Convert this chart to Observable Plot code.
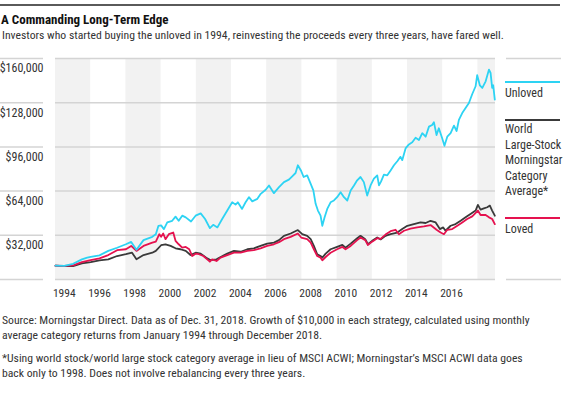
<!DOCTYPE html>
<html>
<head>
<meta charset="utf-8">
<script src="https://cdn.jsdelivr.net/npm/d3@7"></script>
<script src="https://cdn.jsdelivr.net/npm/@observablehq/plot@0.6"></script>
<style>
  html, body { margin: 0; padding: 0; background: #fff; }
  body { width: 565px; height: 399px; position: relative; overflow: hidden;
         font-family: "Roboto Condensed", "Liberation Sans Narrow", sans-serif; color: #222; }
  #rule { position: absolute; left: 0; top: 4px; width: 560px; height: 2px; background: #5a5a5a; }
  #title { position: absolute; left: 1px; top: 12px; font-size: 13px; line-height: 16px; font-weight: bold; color: #111; white-space: nowrap; }
  #subtitle { position: absolute; left: 2px; top: 28px; font-size: 11.7px; line-height: 14px; color: #333; white-space: nowrap; }
  #chart { position: absolute; left: 0; top: 48px; }
  #legend { position: absolute; left: 505px; top: 0; width: 55px; font-size: 12px; color: #333; }
  .bar { position: absolute; left: 0; width: 55px; height: 2px; }
  .lab { position: absolute; left: 0; white-space: nowrap; line-height: 15.6px; }
  .note { position: absolute; left: 2px; font-size: 11.7px; line-height: 15px; color: #333; white-space: nowrap; }
</style>
</head>
<body>
<div id="rule"></div>
<div id="title">A Commanding Long-Term Edge</div>
<div id="subtitle">Investors who started buying the unloved in 1994, reinvesting the proceeds every three years, have fared well.</div>
<div id="chart"></div>
<div id="legend"></div>
<div class="note" style="top:313px">Source: Morningstar Direct. Data as of Dec. 31, 2018. Growth of $10,000 in each strategy, calculated using monthly<br>average category returns from January 1994 through December 2018.</div>
<div class="note" style="top:351px">*Using world stock/world large stock category average in lieu of MSCI ACWI; Morningstar’s MSCI ACWI data goes<br>back only to 1998. Does not involve rebalancing every three years.</div>
<script>
// ---- Data (years as decimal years, values in thousands of dollars) ----
const unlovedT = [1994.0,1994.5,1995.0,1995.5,1995.8,1996.0,1996.5,1997.0,1997.5,1998.0,1998.3,1998.6,1999.0,1999.5,1999.7,1999.85,2000.0,2000.16,2000.35,2000.63,2000.82,2001.0,2001.2,2001.4,2001.7,2001.96,2002.25,2002.5,2002.77,2002.96,2003.2,2003.47,2003.76,2004.04,2004.23,2004.36,2004.6,2004.8,2004.99,2005.18,2005.47,2005.66,2005.94,2006.13,2006.41,2006.7,2006.98,2007.26,2007.45,2007.64,2007.77,2007.96,2008.1,2008.3,2008.5,2008.65,2008.78,2008.91,2009.06,2009.16,2009.29,2009.44,2009.63,2009.82,2010.0,2010.2,2010.39,2010.58,2010.77,2010.96,2011.14,2011.33,2011.52,2011.71,2011.9,2012.09,2012.28,2012.38,2012.5,2012.66,2012.85,2013.04,2013.23,2013.42,2013.6,2013.7,2013.89,2014.08,2014.27,2014.46,2014.65,2014.84,2015.03,2015.22,2015.4,2015.5,2015.65,2015.78,2015.97,2016.1,2016.26,2016.45,2016.64,2016.79,2016.92,2017.11,2017.3,2017.49,2017.68,2017.87,2017.96,2018.11,2018.25,2018.44,2018.63,2018.72,2018.81,2018.87,2018.96];
const unlovedV = [10.0,9.9,11.4,14.6,15.8,16.3,17.5,20.7,23.0,25.5,27.2,21.5,28.5,30.9,32.8,38.9,39.2,36.5,41.3,42.5,45.5,42.5,46.2,45.0,42.0,46.2,47.9,43.8,37.2,39.6,37.7,43.8,49.9,55.9,54.2,55.9,51.1,55.9,59.6,56.6,58.4,62.0,65.0,68.1,62.5,66.9,70.5,72.3,74.7,77.1,82.7,78.5,74.2,75.4,69.3,64.5,54.8,49.9,46.2,38.9,45.0,51.1,55.9,57.2,59.6,63.2,59.6,57.2,64.5,68.1,71.8,74.2,70.5,60.8,68.1,73.0,75.4,68.1,71.0,75.9,75.4,79.0,82.7,85.6,88.8,86.4,94.9,97.8,99.3,102.6,101.0,105.9,103.4,110.7,111.9,113.9,104.6,109.5,102.2,96.8,103.4,105.9,111.4,107.5,115.6,120.5,124.1,127.8,134.3,139.9,147.9,140.6,138.7,143.5,152.0,149.6,138.7,140.6,130.2];

const worldT = [1994.0,1994.5,1995.0,1995.5,1996.0,1996.5,1997.0,1997.5,1998.0,1998.35,1998.6,1999.0,1999.5,1999.7,2000.0,2000.25,2000.54,2000.82,2001.1,2001.4,2001.67,2001.96,2002.25,2002.62,2002.8,2003.15,2003.38,2003.76,2004.14,2004.52,2004.9,2005.27,2005.65,2006.03,2006.41,2006.7,2006.98,2007.36,2007.77,2008.02,2008.3,2008.5,2008.68,2008.87,2009.06,2009.16,2009.35,2009.63,2010.0,2010.3,2010.48,2010.77,2011.14,2011.33,2011.6,2011.75,2011.99,2012.28,2012.47,2012.75,2013.04,2013.42,2013.7,2013.99,2014.36,2014.74,2015.03,2015.31,2015.6,2015.84,2016.03,2016.16,2016.45,2016.73,2017.02,2017.3,2017.58,2017.87,2018.0,2018.15,2018.34,2018.53,2018.68,2018.81,2018.96];
const worldV = [10.0,9.7,9.7,11.7,12.6,13.9,14.6,17.0,18.3,19.4,14.6,17.7,19.4,20.7,24.8,25.5,24.3,22.6,21.9,20.7,17.7,19.4,18.7,15.3,14.1,14.6,16.3,18.7,20.7,20.1,21.9,22.6,24.3,26.0,26.7,28.5,31.6,33.3,35.8,32.8,31.6,29.2,24.3,18.3,17.0,15.8,18.7,21.9,23.6,25.0,23.1,26.0,29.9,31.6,29.2,25.5,28.0,30.4,29.0,31.6,32.8,34.0,36.5,38.9,40.1,41.3,40.9,42.5,41.3,36.5,37.7,35.3,38.9,40.1,42.5,45.0,47.5,49.9,54.0,50.6,51.5,52.3,53.5,49.9,46.2];

const lovedT = [1994.0,1994.5,1995.0,1995.5,1996.0,1996.5,1997.0,1997.5,1998.0,1998.3,1998.6,1999.0,1999.5,1999.7,1999.9,2000.0,2000.12,2000.25,2000.44,2000.69,2000.82,2001.0,2001.2,2001.4,2001.6,2001.77,2001.96,2002.15,2002.4,2002.62,2002.77,2002.9,2003.15,2003.38,2003.76,2004.14,2004.52,2004.9,2005.27,2005.65,2006.03,2006.41,2006.7,2006.98,2007.36,2007.77,2007.96,2008.3,2008.5,2008.68,2008.87,2009.06,2009.16,2009.35,2009.63,2010.0,2010.3,2010.48,2010.77,2011.14,2011.33,2011.6,2011.75,2011.99,2012.28,2012.47,2012.75,2013.04,2013.32,2013.51,2013.8,2014.17,2014.55,2014.93,2015.31,2015.65,2015.88,2016.07,2016.26,2016.54,2016.83,2017.11,2017.39,2017.68,2018.0,2018.15,2018.44,2018.63,2018.81,2018.96];
const lovedV = [10.0,9.8,10.2,12.6,14.1,15.3,17.7,21.2,21.9,24.3,20.7,24.3,26.7,27.4,32.8,30.9,33.3,29.2,32.8,34.0,28.0,25.5,23.1,23.6,21.9,17.0,18.7,18.3,17.0,14.6,12.9,14.6,13.4,15.8,17.7,19.4,19.4,20.7,21.2,22.6,24.3,25.5,27.0,29.2,30.9,33.3,30.4,29.2,26.7,21.9,17.0,15.8,13.9,16.3,19.4,21.9,23.6,21.9,24.3,28.5,30.4,28.5,25.0,27.4,29.9,29.4,32.5,35.0,36.0,32.8,35.3,36.9,37.7,38.4,39.4,36.0,34.0,32.8,36.0,36.5,38.9,41.3,43.8,45.7,49.9,46.7,46.7,45.0,43.8,40.1];

const yTicks = [0, 32000, 64000, 96000, 128000, 160000];
const yLabelTicks = [32000, 64000, 96000, 128000, 160000];
const yearLabels = ["1994","1996","1998","2000","2002","2004","2006","2008","2010","2012","2014","2016"];
const bandStarts = [1994, 1998, 2002, 2006, 2010, 2014, 2018];
const xDomain = [1994, 2019];

const seriesNames = ["Unloved", "World Large-Stock Morningstar Category Average*", "Loved"];
const seriesColors = ["#2dd3f3", "#3a3a3a", "#e5124f"];

// ---- Build tables ----
const toRows = (T, V) => T.map((t, i) => ({t, v: V[i] * 1000}));
const unloved = toRows(unlovedT, unlovedV);
const world = toRows(worldT, worldV);
const loved = toRows(lovedT, lovedV);
const bands = bandStarts.map(s => ({x1: s, x2: Math.min(s + 2, xDomain[1])}));
const yearTicks = yearLabels.map(l => +l + 0.5);

const gridColor = "#d4d4d4";
const chart = Plot.plot({
  width: 565,
  height: 253,
  marginLeft: 55,
  marginRight: 70,
  marginTop: 10,
  marginBottom: 22,
  style: {fontFamily: '"Roboto Condensed", "Liberation Sans Narrow", sans-serif', fontSize: "12px", color: "#333", background: "transparent"},
  x: {type: "linear", domain: xDomain},
  y: {domain: [0, 160000]},
  marks: [
    Plot.rect(bands, {x1: "x1", x2: "x2", fill: "#f2f2f2"}),
    Plot.gridY(yTicks, {stroke: gridColor, strokeOpacity: 1, strokeWidth: 1.5}),
    Plot.axisY(yTicks, {tickSize: 43, dx: -12, fill: "none", stroke: gridColor, strokeWidth: 1.5, label: null}),
    Plot.axisY([0, 160000], {anchor: "right", tickSize: 55, dx: 10, fill: "none", stroke: gridColor, strokeWidth: 1.5, label: null}),
    Plot.axisY(yLabelTicks, {tickSize: 0, tickPadding: 12, dy: 10, stroke: "none", fill: "#333", label: null, fontSize: 12,
      tickFormat: d => "$" + d3.format(",")(d)}),
    Plot.axisX(yearTicks, {tickSize: 0, tickPadding: 9, fill: "#333", label: null, fontSize: 11.5,
      tickFormat: d => yearLabels[yearTicks.indexOf(d)]}),
    Plot.line(world, {x: "t", y: "v", stroke: seriesColors[1], strokeWidth: 1.8}),
    Plot.line(loved, {x: "t", y: "v", stroke: seriesColors[2], strokeWidth: 1.8}),
    Plot.line(unloved, {x: "t", y: "v", stroke: seriesColors[0], strokeWidth: 1.8})
  ]
});
document.getElementById("chart").appendChild(chart);

// ---- Legend (HTML) ----
const legend = document.getElementById("legend");
const legendItems = [
  {bar: 81, text: ["Unloved"], top: 86},
  {bar: 119, text: ["World", "Large-Stock", "Morningstar", "Category", "Average*"], top: 122},
  {bar: 217, text: ["Loved"], top: 222}
];
legendItems.forEach((it, i) => {
  const b = document.createElement("div");
  b.className = "bar"; b.style.top = it.bar + "px"; b.style.background = seriesColors[i];
  legend.appendChild(b);
  const t = document.createElement("div");
  t.className = "lab"; t.style.top = it.top + "px"; t.innerHTML = it.text.join("<br>");
  legend.appendChild(t);
});
</script>
</body>
</html>
